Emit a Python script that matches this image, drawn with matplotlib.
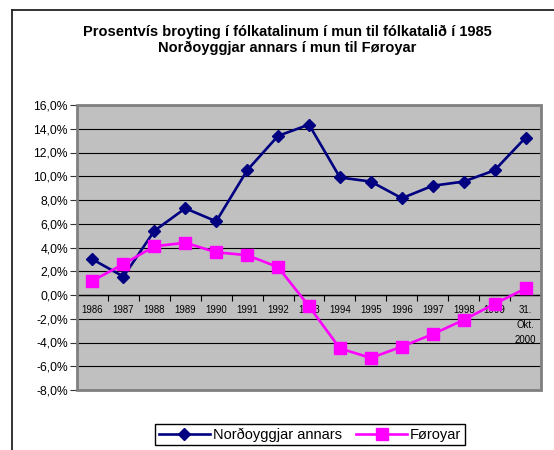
import numpy as np
import matplotlib
matplotlib.use('Agg')
import matplotlib.pyplot as plt
from matplotlib.lines import Line2D
from matplotlib.patches import Rectangle

plt.rcParams['font.family'] = ['Liberation Sans', 'DejaVu Sans']

categories = ['1986', '1987', '1988', '1989', '1990', '1991', '1992', '1993',
              '1994', '1995', '1996', '1997', '1998', '1999', '31.\nOkt.\n2000']
nordoyggjar = [3.0, 1.55, 5.4, 7.3, 6.2, 10.5, 13.4, 14.35, 9.9, 9.55, 8.15,
               9.2, 9.55, 10.5, 13.25]
foroyar = [1.2, 2.6, 4.1, 4.4, 3.6, 3.35, 2.35, -0.95, -4.5, -5.3, -4.35,
           -3.3, -2.1, -0.75, 0.55]
yticks = np.arange(-8, 17, 2)

W, H = 554, 450
fig = plt.figure(figsize=(W / 100, H / 100), dpi=100)

# outer chart frame (cropped on right and bottom)
fig.add_artist(Line2D([12 / W, 12 / W], [0, 1 - 10 / H], color='#222222', lw=1.3))
fig.add_artist(Line2D([12 / W, 1], [1 - 10 / H, 1 - 10 / H], color='#222222', lw=1.3))

fig.text(287 / W, 1 - 32 / H,
         'Prosentvís broyting í fólkatalinum í mun til fólkatalið í 1985',
         ha='center', va='center', fontsize=10.5, fontweight='bold')
fig.text(287 / W, 1 - 47.5 / H, 'Norðoyggjar annars í mun til Føroyar',
         ha='center', va='center', fontsize=10.5, fontweight='bold')

ax = fig.add_axes([77 / W, 60 / H, (541 - 77) / W, (390 - 105) / H])
ax.set_facecolor('#C0C0C0')

x = np.arange(len(categories))
ax.plot(x, nordoyggjar, color='#000080', lw=1.9, marker='D', markersize=6,
        label='Norðoyggjar annars', zorder=3)
ax.plot(x, foroyar, color='#FF00FF', lw=1.9, marker='s', markersize=8,
        label='Føroyar', zorder=3)

ax.set_xlim(-0.5, len(categories) - 0.5)
ax.set_ylim(-8, 16)
ax.set_yticks(yticks)
ax.set_yticklabels([f'{v:.1f}%'.replace('.', ',') for v in yticks], fontsize=8.7)
ax.yaxis.grid(True, color='black', lw=0.8)
ax.set_axisbelow(True)
ax.tick_params(axis='y', length=5, width=0.8, pad=1.5, color='#333333')

# category axis crossing at zero
ax.spines['bottom'].set_position(('data', 0))
ax.spines['bottom'].set_color('black')
ax.spines['bottom'].set_linewidth(1.0)
ax.set_xticks(x)
ax.set_xticklabels(categories, fontsize=6.9, linespacing=1.62, va='top')
ax.tick_params(axis='x', which='major', length=0, pad=7)
ax.set_xticks(np.arange(-0.5, len(categories), 1), minor=True)
ax.tick_params(axis='x', which='minor', length=4, width=0.8, direction='out')

for s in ['top', 'right', 'left']:
    ax.spines[s].set_visible(False)
ax.add_patch(Rectangle((0, 0), 1, 1, transform=ax.transAxes, fill=False,
                       edgecolor='#808080', lw=2, clip_on=False, zorder=4))

fig.legend(loc='center', bbox_to_anchor=(310 / W, 1 - 434.5 / H), ncol=2,
           fontsize=10.5, frameon=True, fancybox=False, edgecolor='black',
           framealpha=1, handlelength=3.5, handletextpad=0.2, columnspacing=1.0,
           borderpad=0.25)

fig.savefig('out.png', dpi=100)
